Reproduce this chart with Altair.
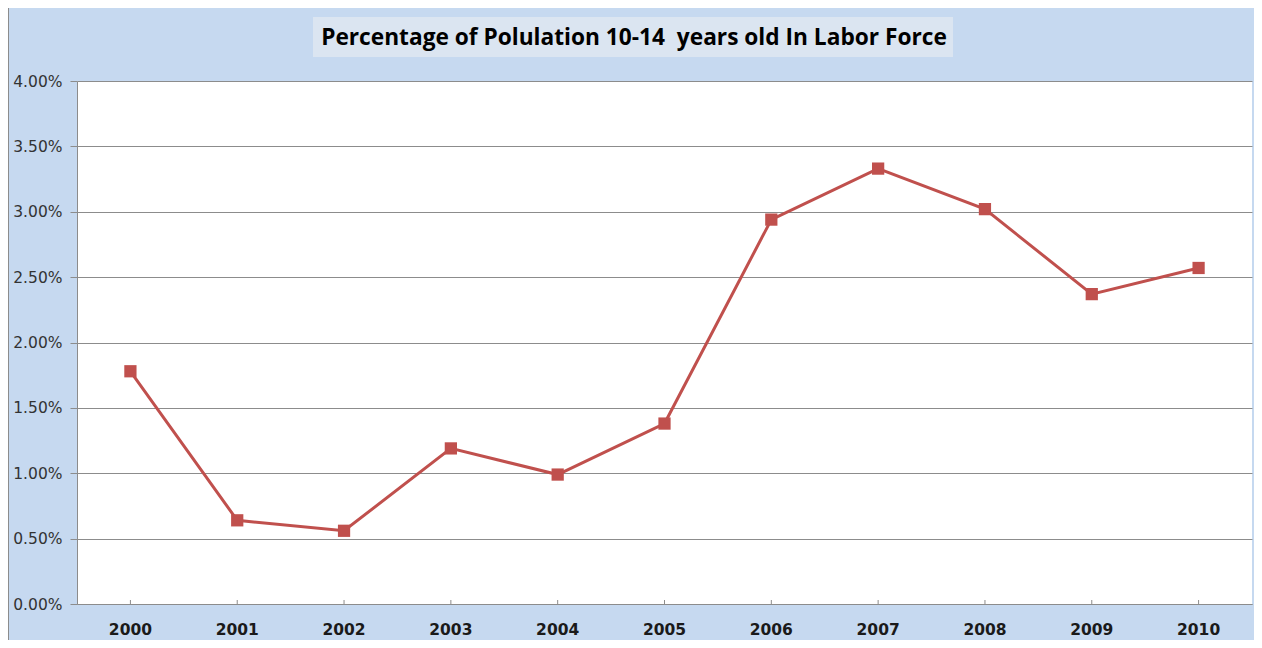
import altair as alt
import pandas as pd

years = ["2000", "2001", "2002", "2003", "2004", "2005", "2006", "2007", "2008", "2009", "2010"]
values = [0.0178, 0.0064, 0.0056, 0.0119, 0.0099, 0.0138, 0.0294, 0.0333, 0.0302, 0.0237, 0.0257]
title_text = "Percentage of Polulation 10-14\u00a0 years old In Labor Force"

df = pd.DataFrame({"year": years, "value": values})

W, H = 1175, 523
x_scale = alt.Scale(paddingInner=0, paddingOuter=0)
y_scale = alt.Scale(domain=[0, 0.04])

base = alt.Chart(df)

line = base.mark_line(color="#c0504d", strokeWidth=3).encode(
    x=alt.X("year:N", sort=years, scale=x_scale,
            axis=alt.Axis(title=None, labelAngle=0, labelFont="DejaVu Sans", labelFontSize=15.5,
                          labelFontWeight="bold", labelColor="#1a1a1a", labelPadding=18,
                          ticks=False, domainColor="#8c8c8c", domainWidth=1, grid=False)),
    y=alt.Y("value:Q", scale=y_scale,
            axis=alt.Axis(title=None, format=".2%", values=[i * 0.005 for i in range(9)],
                          labelFont="DejaVu Sans", labelFontSize=15.5, labelColor="#333333",
                          labelPadding=8, tickSize=7, tickColor="#8c8c8c", domainColor="#8c8c8c",
                          gridColor="#8c8c8c", gridWidth=1)),
)

points = base.mark_point(shape="square", filled=True, size=150, color="#c0504d", opacity=1).encode(
    x=alt.X("year:N", sort=years, scale=x_scale),
    y=alt.Y("value:Q", scale=y_scale),
)

xticks = base.mark_rule(color="#8c8c8c", strokeWidth=1).encode(
    x=alt.X("year:N", sort=years, scale=x_scale),
    y=alt.value(H),
    y2=alt.value(H - 4),
)

tdf = pd.DataFrame({"t": [title_text]})
title_box = alt.Chart(tdf).mark_rect(color="#dbe5f1").encode(
    x=alt.value(236), x2=alt.value(876), y=alt.value(-64), y2=alt.value(-24)
)
title = alt.Chart(tdf).mark_text(font="Open Sans", fontSize=22.7, fontWeight="bold", color="#000000",
                                 align="center", baseline="middle").encode(
    x=alt.value(557), y=alt.value(-43), text="t:N"
)
border = alt.Chart(tdf).mark_rule(color="#8c8c8c", strokeWidth=1).encode(
    x=alt.value(-68.5), y=alt.value(-73), y2=alt.value(H + 36)
)

chart = alt.layer(border, title_box, title, line, xticks, points).properties(
    width=W, height=H,
    background="#c6d9f0",
    padding={"left": 69, "top": 73, "right": 2, "bottom": 36},
    autosize=alt.AutoSizeParams(type="none"),
).configure_view(fill="white", stroke=None)

chart.save("out.html", embed_options={"renderer": "svg", "actions": False})
